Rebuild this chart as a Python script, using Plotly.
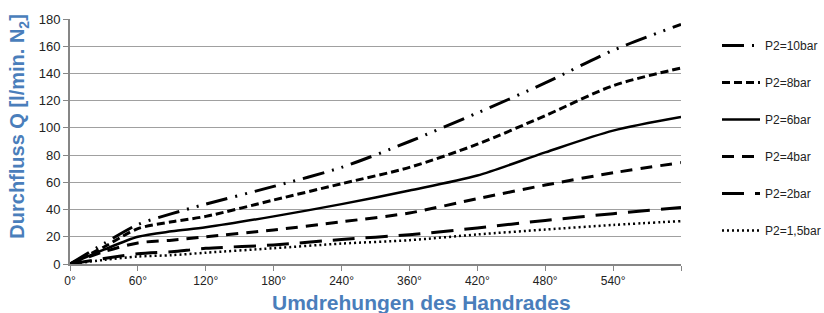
import plotly.graph_objects as go

# x positions in tick steps (0 = 0°, each step = one labelled tick)
turn_steps = [0, 0.5, 1, 1.5, 2, 3, 4, 5, 6, 7, 8, 9]
tick_steps = [0, 1, 2, 3, 4, 5, 6, 7, 8, 9]
tick_labels = ["0°", "60°", "120°", "180°", "240°", "360°", "420°", "480°", "540°", ""]

p10 = [0, 15, 29, 37, 44, 57, 71, 90, 111, 133, 157, 176]
p8 = [0, 12.5, 26, 31, 35, 47, 59, 71, 88, 109, 131, 144]
p6 = [0, 10.5, 20, 24, 27, 35, 44, 54, 65, 82, 98, 108]
p4 = [0, 9, 15.5, 17.5, 20, 25, 31, 37.5, 48, 58, 67, 74.5]
p2 = [0, 4, 7.5, 9, 11.5, 14, 18, 21.5, 26.5, 32, 37, 41.5]
p15 = [0, 3, 5.5, 6.5, 8.3, 11.6, 15, 17.5, 21.7, 25.3, 28.7, 31.5]

series_names = ["P2=10bar", "P2=8bar", "P2=6bar", "P2=4bar", "P2=2bar", "P2=1,5bar"]
series_values = [p10, p8, p6, p4, p2, p15]
dashes = ["22px,8px,2px,8px,2px,8px", "8px,4px", "solid", "12px,8px", "22px,11px", "2px,3px"]
widths = [3, 3, 2.5, 3, 3, 2.5]

fig = go.Figure()
for i, (name, vals, d, w) in enumerate(zip(series_names, series_values, dashes, widths)):
    fig.add_trace(go.Scatter(
        x=turn_steps, y=vals, name=name, mode="lines",
        line=dict(color="black", width=w, dash=d, shape="spline", smoothing=0.8),
        legendgroup=f"g{i}",
    ))

title_blue = "#4A7EBB"
fig.update_layout(
    width=824, height=313,
    margin=dict(l=70, r=143, t=16, b=49),
    paper_bgcolor="white", plot_bgcolor="white",
    font=dict(family="Liberation Sans, Arial, sans-serif", size=12, color="#222"),
    showlegend=True,
    legend=dict(xref="container", yref="container", x=717 / 824, y=1 - 31 / 313,
                xanchor="left", yanchor="top", itemwidth=38, maxheight=300,
                font=dict(size=12, color="#222"), tracegroupgap=18,
                bgcolor="rgba(0,0,0,0)"),
    xaxis=dict(range=[0, 9], tickmode="array", tickvals=tick_steps, ticktext=tick_labels,
               showgrid=False, showline=True, linecolor="#868686", linewidth=2,
               ticks="outside", ticklen=5, tickcolor="#868686", tickwidth=1,
               zeroline=False, tickfont=dict(size=12, color="#222")),
    yaxis=dict(range=[0, 180], dtick=20, showgrid=True, gridcolor="#A0A0A0", gridwidth=1,
               showline=True, linecolor="#868686", linewidth=2,
               ticks="outside", ticklen=5, tickcolor="#868686", tickwidth=1,
               zeroline=False, tickfont=dict(size=13, color="#222")),
    annotations=[
        dict(text="Umdrehungen des Handrades", xref="paper", yref="paper",
             x=(421 - 70) / 611, y=-0.1, xanchor="center", yanchor="top", showarrow=False,
             font=dict(family="Liberation Sans, Arial, sans-serif", size=21, color=title_blue,
                       weight="bold")),
        dict(text="Durchfluss Q [l/min. N<sub>2</sub>]", xref="paper", yref="paper",
             x=-51 / 611, y=(264 - 125) / 248, xanchor="center", yanchor="middle",
             showarrow=False, textangle=-90,
             font=dict(family="Liberation Sans, Arial, sans-serif", size=20, color=title_blue,
                       weight="bold")),
    ],
)

fig.write_html("out.html", config={"displayModeBar": False},
               post_script="document.body.style.margin='0';")
